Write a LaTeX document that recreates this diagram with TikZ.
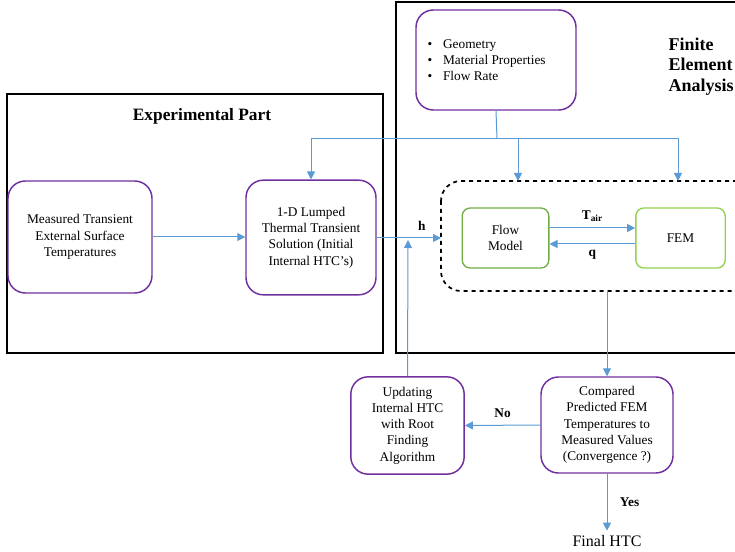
\documentclass[tikz,border=0pt]{standalone}
\usepackage{fontspec}
\setmainfont{Liberation Serif}
\usetikzlibrary{arrows.meta}
\definecolor{boxpurple}{RGB}{112,48,160}
\definecolor{darkgreen}{RGB}{112,173,71}
\definecolor{lightgreen}{RGB}{146,208,80}
\definecolor{flowblue}{RGB}{91,155,213}
\begin{document}
\begin{tikzpicture}[x=0.75pt, y=-0.75pt,
  >={Triangle[length=6pt,width=6pt]},
  procbox/.style={draw=boxpurple, line width=1.1pt, rounded corners=13pt, align=center, font=\fontsize{10}{12.2}\selectfont, inner sep=2pt},
  modelbox/.style={draw=#1, line width=1pt, rounded corners=6pt, align=center, font=\fontsize{10}{12}\selectfont},
  link/.style={->, flowblue, line width=0.75pt},
  lbl/.style={text=black, font=\bfseries\fontsize{10}{12}\selectfont}]
 \useasboundingbox (0,0) rectangle (735,552);
 \clip (0,0) rectangle (735,552);
 % the two parts
 \draw[line width=1.4pt] (7,94) rectangle (383,353);
 \draw[line width=1.4pt] (396,2) rectangle (760,353);
 \node[font=\bfseries\fontsize{13}{15}\selectfont] (exptitle) at (202,116) {Experimental Part};
 \node[font=\bfseries\fontsize{13.5}{15.5}\selectfont, align=left, anchor=north west] (featitle) at (664,33) {Finite\\Element\\Analysis};
 % boxes
 \node[procbox, minimum width=120pt, minimum height=75pt] (inputs) at (496,60) {};
 \node[font=\fontsize{10}{12}\selectfont, align=left, anchor=west] (bullets) at (423,60)
   {\textbullet\hspace{8pt}Geometry\\ \textbullet\hspace{8pt}Material Properties\\ \textbullet\hspace{8pt}Flow Rate};
 \node[procbox, minimum width=108pt, minimum height=84pt] (measured) at (80,237) {Measured Transient\\External Surface\\Temperatures};
 \node[procbox, minimum width=97.5pt, minimum height=86pt] (lumped) at (311,237.5) {1-D Lumped\\Thermal Transient\\Solution (Initial\\Internal HTC's)};
 \draw[dashed, line width=1.3pt, rounded corners=15pt] (441,181) rectangle (790,291);
 \coordinate (dtopa) at (518,181);
 \coordinate (dtopb) at (678,181);
 \coordinate (dleft) at (441,238);
 \coordinate (dbottom) at (607,291);
 \node[modelbox=darkgreen, minimum width=65pt, minimum height=45pt] (flow) at (505.5,238) {Flow\\Model};
 \node[modelbox=lightgreen, minimum width=67pt, minimum height=45pt] (fem) at (680.5,238) {FEM};
 \node[procbox, minimum width=85pt, minimum height=73pt] (update) at (407.5,425.5) {Updating\\Internal HTC\\with Root\\Finding\\Algorithm};
 \node[procbox, minimum width=99pt, minimum height=72pt] (compare) at (607,425) {Compared\\Predicted FEM\\Temperatures to\\Measured Values\\(Convergence ?)};
 \node[font=\fontsize{12}{14}\selectfont] (final) at (607,541) {Final HTC};
 % connectors
 \coordinate (split) at (497,139);
 \draw[flowblue, line width=0.75pt] (inputs.south) -- (split);
 \draw[link] (split) -| (lumped.north);
 \draw[link] (split) -| (dtopa);
 \draw[link] (split) -| (dtopb);
 \draw[link] (measured.east) -- (measured.east -| lumped.west);
 \draw[link] (lumped.east |- dleft) -- node[lbl, above=2pt, pos=0.7] {h} (dleft);
 \draw[link] ([yshift=7.5pt]flow.east) -- node[lbl, above=1pt] {T\textsubscript{air}} ([yshift=7.5pt]fem.west);
 \draw[link] ([yshift=-4.5pt]fem.west) -- node[lbl, below=1pt] {q} ([yshift=-4.5pt]flow.east);
 \draw[link] (dbottom) -- (compare.north);
 \draw[link] (compare.west) -- node[lbl, above=2pt] {No} (update.east);
 \draw[link] (update.north) -- (408,240);
 \draw[link] (compare.south) -- node[lbl, right=6pt] {Yes} (final.north);
\end{tikzpicture}
\end{document}
